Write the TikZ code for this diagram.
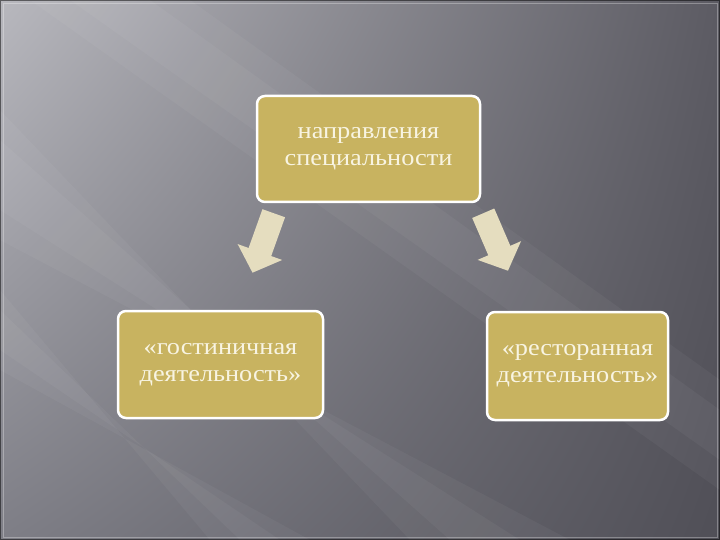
\documentclass[tikz,border=0pt]{standalone}
\usepackage{fontspec}
\setmainfont{Liberation Serif}[FakeStretch=1.12]
\usetikzlibrary{positioning, calc, arrows.meta, shadings}
\definecolor{gold}{HTML}{C8B360}
\definecolor{cream}{HTML}{E5DDBF}
\definecolor{ink}{HTML}{F8F4E2}
\definecolor{bgUL}{HTML}{B8B8BE}
\definecolor{bgUR}{HTML}{5C5B63}
\definecolor{bgLL}{HTML}{7E7E86}
\definecolor{bgLR}{HTML}{504F57}
\tikzstyle{branch} = [rectangle, rounded corners=8pt, text centered, draw=white, line width=2.5pt, fill=gold, align=center, text=ink, font=\fontsize{23.5}{27}\selectfont]
\tikzstyle{bigarrow} = [line width=24pt, draw=cream, -{Triangle[length=22pt,width=46pt]}]
\tikzstyle{streak} = [white, opacity=0.04]

\begin{document}
\begin{tikzpicture}[x=1pt, y=-1pt, node distance=215.5pt]
    \useasboundingbox (0,0) rectangle (720,540);
    \shade[upper left=bgUL, upper right=bgUR, lower left=bgLL, lower right=bgLR] (0,0) rectangle (720,540);
    % light streaks, two layers each for soft edges
    \fill[streak] (30,0) -- (190,0) -- (720,380) -- (720,490) -- cycle;
    \fill[streak] (70,0) -- (150,0) -- (720,410) -- (720,460) -- cycle;
    \fill[streak] (0,110) -- (0,240) -- (570,540) -- (410,540) -- cycle;
    \fill[streak] (0,140) -- (0,210) -- (520,540) -- (450,540) -- cycle;
    \fill[streak] (0,290) -- (0,370) -- (310,540) -- (210,540) -- cycle;
    \fill[streak] (0,310) -- (0,350) -- (280,540) -- (240,540) -- cycle;
    \draw[black, opacity=0.5, line width=1pt] (0.5,0.5) rectangle (719.5,539.5);
    \draw[white, opacity=0.3, line width=0.8pt] (3,3) rectangle (717,537);
    \node (spec) [branch, minimum width=223pt, minimum height=106pt] at (368.5,149) {направления\\специальности};
    \node (hotel) [branch, minimum width=205pt, minimum height=107pt, below of=spec, xshift=-148pt] {«гостиничная\\деятельность»};
    \node (rest) [branch, minimum width=181pt, minimum height=108pt, below of=spec, xshift=209pt, yshift=-1.5pt] {«ресторанная\\деятельность»};
    \coordinate (l1) at ($(spec.south west)+(18,10)$);
    \coordinate (l2) at ($(hotel.north)+(32,-37)$);
    \coordinate (r1) at ($(spec.south east)+(2,10)$);
    \coordinate (r2) at ($(rest.north)+(-69.5,-40)$);
    \draw[bigarrow] (l1)--(l2);
    \draw[bigarrow] (r1)--(r2);
\end{tikzpicture}
\end{document}
